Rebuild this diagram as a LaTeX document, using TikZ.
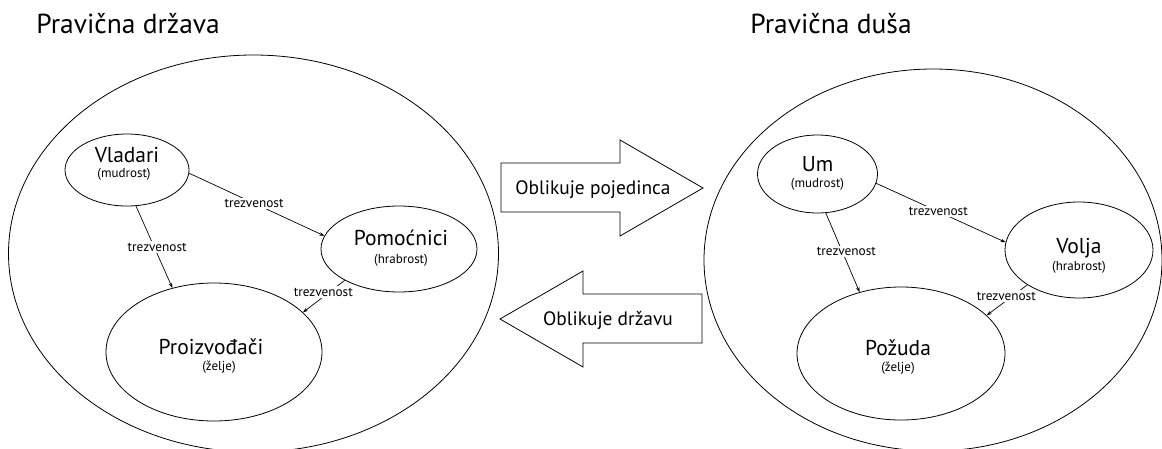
\documentclass[tikz,border=0pt]{standalone}
\usepackage{fontspec}
\setmainfont{PT Sans}
\usetikzlibrary{shapes.geometric,arrows.meta}
\begin{document}
\begin{tikzpicture}[x=1pt,y=-1pt, line width=0.8pt,
 oval/.style={ellipse, draw, inner sep=0pt},
 nm/.style={font=\fontsize{21.5}{24}\selectfont, anchor=base, inner sep=0pt},
 sub/.style={font=\fontsize{13}{15}\selectfont, anchor=base, inner sep=0pt},
 rel/.style={-{Stealth[length=5pt,width=3.6pt]}, line width=0.7pt},
 lab/.style={font=\fontsize{13.3}{15}\selectfont, fill=white, inner sep=1.5pt},
 ttl/.style={font=\fontsize{27.5}{30}\selectfont, anchor=base west, inner sep=0pt},
 blockarrow/.style={draw, line width=0.8pt, fill=white},
 atext/.style={font=\fontsize{19.4}{22}\selectfont, anchor=base, inner sep=0pt}]
\useasboundingbox (0,0) rectangle (1162,448);
\fill[white] (0,0) rectangle (1162,448);
% titles
\node[ttl] (t1) at (36,33) {Pravična država};
\node[ttl] (t2) at (750,33) {Pravična duša};
% big ellipses
\node[oval, minimum width=490pt, minimum height=397pt] (L) at (253.5,253.5) {};
\node[oval, minimum width=458pt, minimum height=382pt] (R) at (933,260) {};
% left inner
\node[oval, minimum width=124pt, minimum height=72pt] (v) at (127,170) {};
\node[oval, minimum width=156pt, minimum height=86pt] (p) at (399,249) {};
\node[oval, minimum width=216pt, minimum height=138pt] (pr) at (214,352) {};
\node[nm] (vt) at (127,162) {Vladari};
\node[sub] (vs) at (124,177) {(mudrost)};
\node[nm] (pt) at (401,245) {Pomoćnici};
\node[sub] (ps) at (401,263) {(hrabrost)};
\node[nm] (prt) at (211,354) {Proizvođači};
\node[sub] (prs) at (219,370) {(želje)};
% right inner
\node[oval, minimum width=120pt, minimum height=78pt] (um) at (817.5,174) {};
\node[oval, minimum width=148pt, minimum height=96pt] (vo) at (1079,250) {};
\node[oval, minimum width=208pt, minimum height=133pt] (po) at (901,353.5) {};
\node[nm] (umt) at (817.5,171) {Um};
\node[sub] (ums) at (817.5,187) {(mudrost)};
\node[nm] (vot) at (1079,253) {Volja};
\node[sub] (vos) at (1079,270) {(hrabrost)};
\node[nm] (pot) at (898,355) {Požuda};
\node[sub] (pos) at (898,371) {(želje)};
% connectors left
\draw[rel] (v.-3) -- node[lab,pos=.48]{trezvenost} (p.170);
\draw[rel] (v.-76) -- node[lab,pos=.5,xshift=3pt]{trezvenost} (pr.123);
\draw[rel] (p.210) -- node[lab,pos=.37,xshift=-6pt]{trezvenost} (pr.24);
% connectors right
\draw[rel] (um.-9) -- node[lab,pos=.48]{trezvenost} (vo.174);
\draw[rel] (um.-78) -- node[lab,pos=.49,xshift=4pt]{trezvenost} (po.124);
\draw[rel] (vo.214) -- node[lab,pos=.37,xshift=-6pt]{trezvenost} (po.24);
% block arrows
\draw[blockarrow] (501,163) -- (620,163) -- (620,140) -- (703,188) -- (620,236) -- (620,212) -- (501,212) -- cycle;
\node[atext] (a1) at (593,194) {Oblikuje pojedinca};
\draw[blockarrow] (702,294) -- (583,294) -- (583,271) -- (500,319) -- (583,367) -- (583,343) -- (702,343) -- cycle;
\node[atext] (a2) at (608,325) {Oblikuje državu};
\end{tikzpicture}
\end{document}
